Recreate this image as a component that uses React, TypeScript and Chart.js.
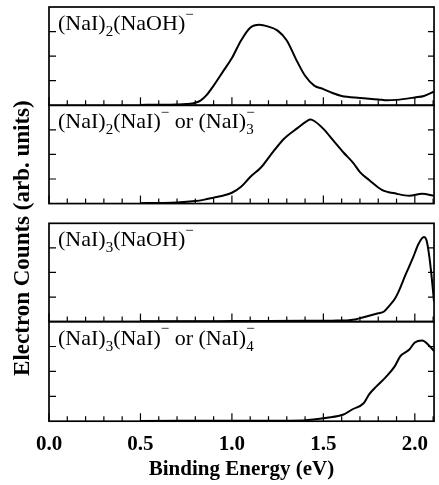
import React, { useEffect, useRef } from "react";
import { Chart, registerables } from "chart.js";
Chart.register(...registerables);

// ---- data ----
const xTickValues = [0.0, 0.5, 1.0, 1.5, 2.0];
const xMin = 0;
const xMax = 2.105;
const yTickValues = [0.25, 0.5, 0.75];

const p1Energy = [0.5, 0.6, 0.7, 0.75, 0.8, 0.83, 0.86, 0.9, 0.95, 1.0, 1.05, 1.1, 1.15, 1.2, 1.25, 1.3, 1.35, 1.4, 1.45, 1.5, 1.55, 1.6, 1.7, 1.8, 1.85, 1.9, 2.0, 2.05, 2.105];
const p1Counts = [0.004, 0.005, 0.008, 0.012, 0.025, 0.05, 0.1, 0.2, 0.34, 0.48, 0.66, 0.79, 0.82, 0.8, 0.76, 0.66, 0.47, 0.3, 0.2, 0.165, 0.125, 0.095, 0.075, 0.06, 0.05, 0.055, 0.08, 0.095, 0.14];

const p2Energy = [0.5, 0.6, 0.7, 0.8, 0.85, 0.9, 0.95, 1.0, 1.05, 1.1, 1.16, 1.21, 1.285, 1.36, 1.41, 1.43, 1.45, 1.5, 1.555, 1.61, 1.665, 1.7, 1.75, 1.82, 1.9, 1.97, 2.04, 2.105];
const p2Counts = [0.004, 0.006, 0.01, 0.025, 0.04, 0.06, 0.08, 0.11, 0.17, 0.27, 0.37, 0.49, 0.66, 0.77, 0.84, 0.855, 0.84, 0.76, 0.64, 0.52, 0.41, 0.32, 0.24, 0.14, 0.1, 0.08, 0.1, 0.08];

const p3Energy = [0.5, 0.8, 1.0, 1.2, 1.4, 1.55, 1.64, 1.68, 1.72, 1.75, 1.8, 1.83, 1.86, 1.89, 1.91, 1.95, 1.99, 2.02, 2.05, 2.065, 2.08, 2.095, 2.105];
const p3Counts = [0.003, 0.004, 0.005, 0.006, 0.008, 0.01, 0.015, 0.025, 0.045, 0.06, 0.085, 0.1, 0.16, 0.23, 0.3, 0.48, 0.65, 0.79, 0.86, 0.82, 0.65, 0.4, 0.2];

const p4Energy = [0.5, 1.0, 1.2, 1.39, 1.52, 1.61, 1.66, 1.72, 1.75, 1.79, 1.84, 1.89, 1.92, 1.97, 2.0, 2.04, 2.08, 2.105];
const p4Counts = [0.003, 0.004, 0.005, 0.008, 0.034, 0.067, 0.12, 0.18, 0.27, 0.35, 0.44, 0.55, 0.65, 0.72, 0.79, 0.81, 0.755, 0.705];

// label segments: [text, kind] kind 0 = normal, -1 = subscript, 1 = superscript
type Seg = [string, number];
const p1Label: Seg[] = [["(NaI)", 0], ["2", -1], ["(NaOH)", 0], ["\u2212", 1]];
const p2Label: Seg[] = [["(NaI)", 0], ["2", -1], ["(NaI)", 0], ["\u2212", 1], [" or (NaI)", 0], ["3", -1], ["\u2212", 1]];
const p3Label: Seg[] = [["(NaI)", 0], ["3", -1], ["(NaOH)", 0], ["\u2212", 1]];
const p4Label: Seg[] = [["(NaI)", 0], ["3", -1], ["(NaI)", 0], ["\u2212", 1], [" or (NaI)", 0], ["4", -1], ["\u2212", 1]];

const xTitle = "Binding Energy (eV)";
const yTitle = "Electron Counts (arb. units)";

const panelIds = ["p1", "p2", "p3", "p4"];
const panelEnergies = [p1Energy, p2Energy, p3Energy, p4Energy];
const panelCounts = [p1Counts, p2Counts, p3Counts, p4Counts];
const panelLabels = [p1Label, p2Label, p3Label, p4Label];

const FONT = '"Liberation Serif", "Times New Roman", serif';

function drawRich(ctx: CanvasRenderingContext2D, segs: Seg[], x: number, y: number, size: number) {
  let cx = x;
  let subStart: number | null = null;
  let subEnd = 0;
  ctx.textBaseline = "alphabetic";
  ctx.textAlign = "left";
  for (const [text, kind] of segs) {
    if (kind === 0) {
      ctx.font = `${size}px ${FONT}`;
      ctx.fillText(text, cx, y);
      cx += ctx.measureText(text).width;
      subStart = null;
    } else if (kind === -1) {
      ctx.font = `${Math.round(size * 0.68)}px ${FONT}`;
      ctx.fillText(text, cx, y + size * 0.28);
      subStart = cx;
      cx += ctx.measureText(text).width;
      subEnd = cx;
    } else {
      ctx.font = `${Math.round(size * 0.68)}px ${FONT}`;
      const sx = subStart !== null ? subStart : cx;
      ctx.fillText(text, sx, y - size * 0.52);
      const w = ctx.measureText(text).width;
      cx = Math.max(subStart !== null ? subEnd : cx, sx + w);
      subStart = null;
    }
  }
}

const panelPlugin = {
  id: "panelDecor",
  afterDatasetsDraw(chart: any) {
    const ctx: CanvasRenderingContext2D = chart.ctx;
    const { left, right } = chart.chartArea;
    const xs = chart.scales.x;
    ctx.save();
    ctx.strokeStyle = "#000";
    ctx.fillStyle = "#000";
    panelIds.forEach((id, i) => {
      const s = chart.scales[id];
      const top = s.top;
      const bottom = s.bottom;
      ctx.lineWidth = 1.2;
      for (let k = 0; k <= 21; k++) {
        const px = xs.getPixelForValue(k / 10);
        const len = k % 5 === 0 ? 8 : 5;
        ctx.beginPath();
        ctx.moveTo(px, bottom);
        ctx.lineTo(px, bottom - len);
        ctx.stroke();
      }
      for (const v of yTickValues) {
        const py = s.getPixelForValue(v);
        ctx.beginPath();
        ctx.moveTo(left, py);
        ctx.lineTo(left + 7, py);
        ctx.moveTo(right, py);
        ctx.lineTo(right - 6, py);
        ctx.stroke();
      }
      ctx.lineWidth = 1.7;
      ctx.strokeRect(left, top, right - left, bottom - top);
      drawRich(ctx, panelLabels[i], left + 9, top + 23, 22);
    });
    const t = chart.scales.p1.top;
    const b = chart.scales.p4.bottom;
    ctx.translate(23, (t + b) / 2 + 24);
    ctx.rotate(-Math.PI / 2);
    ctx.font = `bold 23px ${FONT}`;
    ctx.textAlign = "center";
    ctx.textBaseline = "middle";
    ctx.fillText(yTitle, 0, 0);
    ctx.restore();
  },
};

function panelAxis(weight: number, stackWeight: number) {
  return {
    type: "linear" as const,
    position: "left" as const,
    stack: "panels",
    stackWeight,
    weight,
    min: 0,
    max: 1,
    display: true,
    ticks: { display: false },
    grid: { display: false, drawTicks: false },
    border: { display: false },
    afterFit: (s: any) => {
      s.width = 0;
    },
  };
}

export default function App() {
  const ref = useRef<HTMLCanvasElement>(null);
  useEffect(() => {
    document.body.style.margin = "0";
    const datasets = panelIds.map((id, i) => ({
      label: id,
      data: panelEnergies[i].map((e, j) => ({ x: e, y: panelCounts[i][j] })),
      yAxisID: id,
      borderColor: "#000",
      borderWidth: 2,
      pointRadius: 0,
      fill: false,
      cubicInterpolationMode: "monotone" as const,
    }));
    const chart = new Chart(ref.current!, {
      type: "line",
      data: { datasets },
      options: {
        animation: false,
        responsive: false,
        devicePixelRatio: 1,
        layout: { padding: { left: 49, right: 1, top: 7, bottom: 2.4 } },
        plugins: { legend: { display: false }, tooltip: { enabled: false } },
        scales: {
          x: {
            type: "linear",
            position: "bottom",
            min: xMin,
            max: xMax,
            grid: { display: false, drawTicks: false },
            border: { display: false },
            afterBuildTicks: (s: any) => {
              s.ticks = xTickValues.map((v) => ({ value: v }));
            },
            ticks: {
              color: "#000",
              padding: 11,
              maxRotation: 0,
              font: { family: FONT, size: 21, weight: "bold" },
              callback: (v: any) => Number(v).toFixed(1),
            },
            title: {
              display: true,
              text: xTitle,
              color: "#000",
              padding: { top: -11, bottom: 0 },
              font: { family: FONT, size: 21, weight: "bold" },
            },
          },
          p1: panelAxis(5, 98),
          p2: panelAxis(4, 98),
          gap: panelAxis(3, 19.7),
          p3: panelAxis(2, 98),
          p4: panelAxis(1, 99.3),
        },
      },
      plugins: [panelPlugin],
    });
    return () => chart.destroy();
  }, []);
  return <canvas ref={ref} width={439} height={485} style={{ display: "block" }} />;
}
